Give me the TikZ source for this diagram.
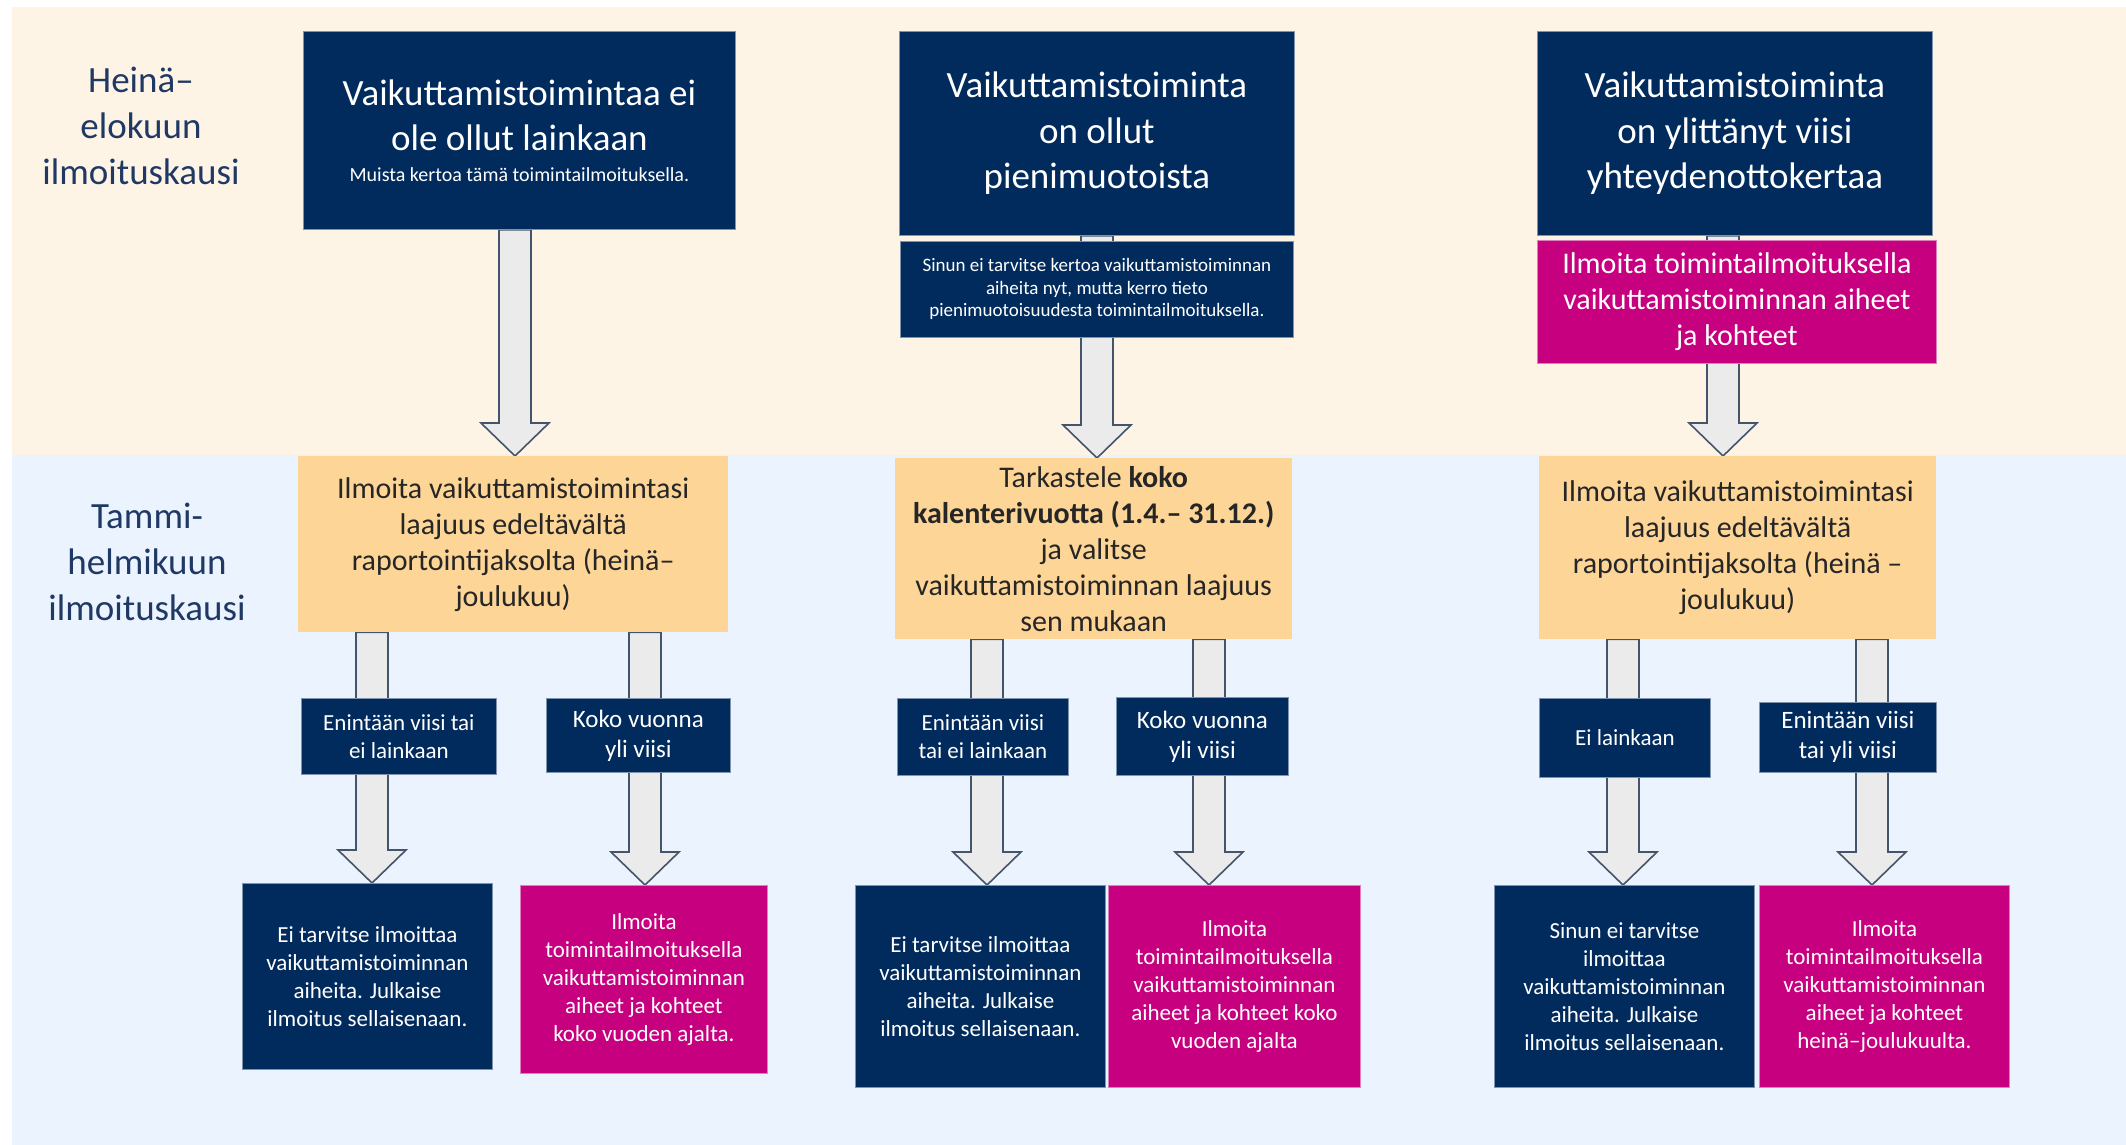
\documentclass[tikz,border=0pt]{standalone}
\usepackage{fontspec}
\setmainfont{Carlito}
\usepackage{xcolor}
\usetikzlibrary{calc}
\usetikzlibrary{positioning}
\pgfdeclarelayer{bands}
\pgfdeclarelayer{background}
\pgfsetlayers{bands,background,main}

\definecolor{deepblue}{HTML}{002B5C}
\definecolor{navyedge}{HTML}{7F93AD}
\definecolor{boxpink}{HTML}{C6007E}
\definecolor{pinkedge}{HTML}{E07FBE}
\definecolor{boxorange}{HTML}{FDD596}
\definecolor{creamband}{HTML}{FEF4E6}
\definecolor{blueband}{HTML}{EBF3FE}
\definecolor{arrowfill}{HTML}{EBEBEB}
\definecolor{arrowline}{HTML}{44546A}
\definecolor{titleblue}{HTML}{1F3864}

% hollow block arrow: x position, start node, end node
\newcommand{\fatarrow}[3]{%
  \draw[fatarrow] let \p1=(#2.south), \p2=(#3.north) in
    (#1pt-16pt,\y1) -- (#1pt+16pt,\y1) -- (#1pt+16pt,\y2+33pt) -- (#1pt+34pt,\y2+33pt)
    -- (#1pt,\y2) -- (#1pt-34pt,\y2+33pt) -- (#1pt-16pt,\y2+33pt) -- cycle;}

\begin{document}
\begin{tikzpicture}[x=1pt,y=-1pt]
  \tikzstyle{navybox} = [rectangle, text centered, align=center, draw=navyedge, line width=0.8pt, fill=deepblue, text=white, inner sep=0pt, anchor=north west]
  \tikzstyle{pinkbox} = [rectangle, text centered, align=center, draw=pinkedge, line width=0.8pt, fill=boxpink, text=white, inner sep=0pt, anchor=north west]
  \tikzstyle{orangebox} = [rectangle, text centered, align=center, fill=boxorange, text=black!85, inner sep=0pt, anchor=north west, font=\fontsize{30}{36}\selectfont]
  \tikzstyle{tagbox} = [navybox, font=\fontsize{23}{28}\selectfont]
  \tikzstyle{endbox} = [font=\fontsize{23}{28}\selectfont]
  \tikzstyle{fatarrow} = [draw=arrowline, line width=1.6pt, fill=arrowfill, line join=miter]
  \tikzstyle{period} = [text=titleblue, align=center, font=\fontsize{37}{46}\selectfont]

  \useasboundingbox (0,0) rectangle (2126,1145);
  \begin{pgfonlayer}{bands}
    \fill[creamband] (12,7) rectangle (2126,455);
    \fill[blueband] (12,455) rectangle (2126,1145);
  \end{pgfonlayer}

  \node (p1) [period] at (141,126) {Heinä–\\elokuun\\ilmoituskausi};
  \node (p2) [period] at (147,562) {Tammi-\\helmikuun\\ilmoituskausi};

  % column 1
  \node (top1) [navybox, minimum width=432pt, minimum height=198pt, font=\fontsize{37}{45}\selectfont] at (303,31)
    {Vaikuttamistoimintaa ei\\ole ollut lainkaan\\[-14pt]{\fontsize{20}{24}\selectfont Muista kertoa tämä toimintailmoituksella.}};
  \node (or1) [orangebox, minimum width=430pt, minimum height=176pt] at (298,456)
    {Ilmoita vaikuttamistoimintasi\\laajuus edeltävältä\\raportointijaksolta (heinä–\\joulukuu)};
  \node (tag1a) [tagbox, minimum width=195pt, minimum height=76pt] at (301,698) {Enintään viisi tai\\ei lainkaan};
  \node (tag1b) [tagbox, minimum width=184pt, minimum height=74pt, font=\fontsize{25}{30}\selectfont] at (546,698) {Koko vuonna\\yli viisi};
  \node (end1a) [navybox, endbox, minimum width=250pt, minimum height=186pt] at (242,883)
    {Ei tarvitse ilmoittaa\\vaikuttamistoiminnan\\aiheita. Julkaise\\ilmoitus sellaisenaan.};
  \node (end1b) [pinkbox, endbox, minimum width=247pt, minimum height=188pt] at (520,885)
    {Ilmoita\\toimintailmoituksella\\vaikuttamistoiminnan\\aiheet ja kohteet\\koko vuoden ajalta.};

  % column 2
  \node (top2) [navybox, minimum width=395pt, minimum height=204pt, font=\fontsize{37}{45.5}\selectfont] at (899,31)
    {Vaikuttamistoiminta\\on ollut\\pienimuotoista};
  \node (sub2) [navybox, anchor=north, minimum width=393pt, minimum height=96pt, font=\fontsize{19}{22.5}\selectfont, below=5pt of top2]
    {Sinun ei tarvitse kertoa vaikuttamistoiminnan\\aiheita nyt, mutta kerro tieto\\pienimuotoisuudesta toimintailmoituksella.};
  \node (or2) [orangebox, minimum width=397pt, minimum height=181pt] at (895,458)
    {Tarkastele \textbf{koko}\\\textbf{kalenterivuotta (1.4.– 31.12.)}\\ja valitse\\vaikuttamistoiminnan laajuus\\sen mukaan};
  \node (tag2a) [tagbox, minimum width=171pt, minimum height=77pt] at (897,698) {Enintään viisi\\tai ei lainkaan};
  \node (tag2b) [tagbox, minimum width=172pt, minimum height=78pt, font=\fontsize{25}{30}\selectfont] at (1116,697) {Koko vuonna\\yli viisi};
  \node (end2a) [navybox, endbox, minimum width=250pt, minimum height=202pt] at (855,885)
    {Ei tarvitse ilmoittaa\\vaikuttamistoiminnan\\aiheita. Julkaise\\ilmoitus sellaisenaan.};
  \node (end2b) [pinkbox, endbox, minimum width=252pt, minimum height=202pt] at (1108,885)
    {Ilmoita\\toimintailmoituksella\\vaikuttamistoiminnan\\aiheet ja kohteet koko\\vuoden ajalta};

  % column 3
  \node (top3) [navybox, minimum width=395pt, minimum height=204pt, font=\fontsize{37}{45.5}\selectfont] at (1537,31)
    {Vaikuttamistoiminta\\on ylittänyt viisi\\yhteydenottokertaa};
  \node (sub3) [pinkbox, minimum width=399pt, minimum height=123pt, font=\fontsize{30}{36}\selectfont] at (1537,240)
    {Ilmoita toimintailmoituksella\\vaikuttamistoiminnan aiheet\\ja kohteet};
  \node (or3) [orangebox, minimum width=397pt, minimum height=183pt] at (1539,456)
    {Ilmoita vaikuttamistoimintasi\\laajuus edeltävältä\\raportointijaksolta (heinä –\\joulukuu)};
  \node (tag3a) [tagbox, minimum width=171pt, minimum height=79pt] at (1539,698) {Ei lainkaan};
  \node (tag3b) [tagbox, minimum width=177pt, minimum height=70pt, font=\fontsize{25}{30}\selectfont] at (1759,702) {Enintään viisi\\tai yli viisi};
  \node (end3a) [navybox, endbox, minimum width=260pt, minimum height=202pt] at (1494,885)
    {Sinun ei tarvitse\\ilmoittaa\\vaikuttamistoiminnan\\aiheita. Julkaise\\ilmoitus sellaisenaan.};
  \node (end3b) [pinkbox, endbox, minimum width=250pt, minimum height=202pt] at (1759,885)
    {Ilmoita\\toimintailmoituksella\\vaikuttamistoiminnan\\aiheet ja kohteet\\heinä–joulukuulta.};

  \begin{pgfonlayer}{background}
    \fatarrow{515}{top1}{or1}
    \fatarrow{1097}{top2}{or2}
    \fatarrow{1723}{top3}{or3}
    \fatarrow{372}{or1}{end1a}
    \fatarrow{645}{or1}{end1b}
    \fatarrow{987}{or2}{end2a}
    \fatarrow{1209}{or2}{end2b}
    \fatarrow{1623}{or3}{end3a}
    \fatarrow{1872}{or3}{end3b}
  \end{pgfonlayer}
\end{tikzpicture}
\end{document}
